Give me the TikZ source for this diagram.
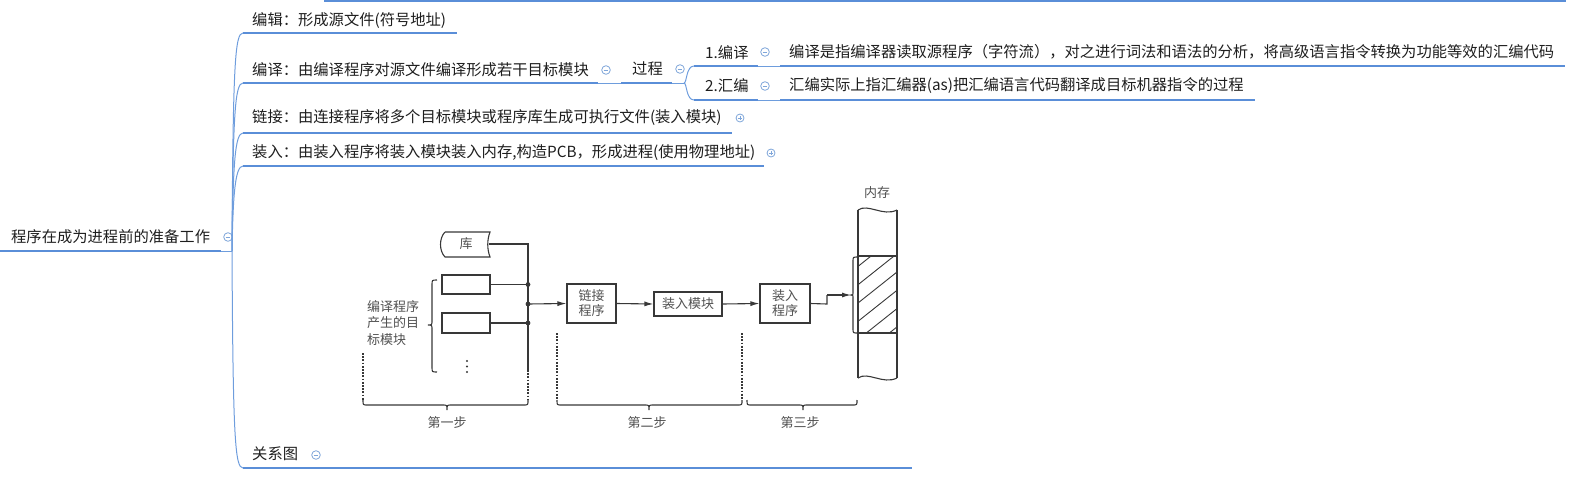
\documentclass[tikz,border=0pt]{standalone}
\usepackage{fontspec}
\newfontfamily\cjk{Noto Sans CJK SC}
\usetikzlibrary{arrows.meta}
\definecolor{mmblue}{HTML}{5A8ED8}
\definecolor{mmthin}{HTML}{6E9DDD}
\definecolor{iconc}{HTML}{7FA6DA}
\definecolor{figline}{HTML}{383838}
\definecolor{figtext}{HTML}{505050}
\definecolor{mmtextc}{HTML}{1E1E1E}
\begin{document}
\begin{tikzpicture}[x=1pt,y=-1pt,
  mmtext/.style={anchor=west,inner sep=0pt,text=mmtextc,font=\cjk\fontsize{15.3}{18}\selectfont},
  uline/.style={draw=mmblue,line width=2.6pt},
  thinb/.style={draw=mmthin,line width=1pt},
  figl/.style={draw=figline,line width=1.1pt},
  figdot/.style={draw=figline,line width=1.1pt,dash pattern=on 1.8pt off 1.4pt},
  figbox/.style={draw=figline,line width=1.1pt,inner sep=0pt,text=figtext,font=\cjk\fontsize{13}{15}\selectfont,align=center},
  figtxt/.style={inner sep=0pt,text=figtext,font=\cjk\fontsize{13}{16.5}\selectfont},
  figarrow/.style={figl,-{Latex[length=9pt,width=5pt]}},
  mmminus/.pic={\draw[iconc,line width=0.8pt,fill=white] (0,0) circle (4.3pt); \draw[iconc,line width=0.8pt] (-2.3,0)--(2.3,0);},
  mmplus/.pic={\draw[iconc,line width=0.8pt,fill=white] (0,0) circle (4pt); \draw[iconc,line width=0.8pt] (-2.1,0)--(2.1,0) (0,-2.1)--(0,2.1);}
]
\useasboundingbox (0,0) rectangle (1576,482);

% ---------- mind map ----------
\draw[uline] (324,1) -- (1566,1);

\node[mmtext] (root) at (11,237) {程序在成为进程前的准备工作};
\coordinate (rootL) at (0,251);
\coordinate (rootR) at (221,251);
\coordinate (hub) at (232,251);
\draw[uline] (rootL) -- (rootR);
\draw[thinb] (rootR) -- (hub);
\pic at (228,237) {mmminus};

% branch start points
\coordinate (b1) at (243,33);
\coordinate (b2) at (243,83);
\coordinate (b3) at (243,133);
\coordinate (b4) at (243,166);
\coordinate (b5) at (243,468);
\draw[thinb] (hub) .. controls (233,63) and (235,33) .. (b1);
\draw[thinb] (hub) .. controls (233,113) and (235,83) .. (b2);
\draw[thinb] (hub) .. controls (233,163) and (235,133) .. (b3);
\draw[thinb] (hub) .. controls (233,196) and (235,166) .. (b4);
\draw[thinb] (hub) .. controls (233,438) and (235,468) .. (b5);

% 编辑
\node[mmtext] (t1) at (252,21) {编辑：形成源文件(符号地址)};
\coordinate (u1) at (457,33);
\draw[uline] (b1) -- (u1);

% 编译
\node[mmtext] (t2) at (252,70) {编译：由编译程序对源文件编译形成若干目标模块};
\coordinate (u2a) at (598,83);
\coordinate (u2b) at (621,83);
\coordinate (u2c) at (672,83);
\coordinate (u2d) at (684,83);
\draw[uline] (b2) -- (u2a);
\draw[thinb] (u2a) -- (u2b);
\draw[uline] (u2b) -- (u2c);
\draw[thinb] (u2c) -- (u2d);
\pic at (606,70) {mmminus};
\node[mmtext] (gc) at (632,69) {过程};
\pic at (680,69) {mmminus};

\coordinate (p1) at (694,66);
\coordinate (p2) at (694,100);
\draw[thinb] (u2d) .. controls (687,83) and (686,66) .. (p1);
\draw[thinb] (u2d) .. controls (687,83) and (686,100) .. (p2);

\node[mmtext] (s1) at (705,53) {1.编译};
\pic at (765,52) {mmminus};
\coordinate (p1a) at (758,66);
\coordinate (p1b) at (780,66);
\coordinate (p1c) at (1565,66);
\draw[uline] (p1) -- (p1a);
\draw[thinb] (p1a) -- (p1b);
\draw[uline] (p1b) -- (p1c);
\node[mmtext] (d1) at (789,52) {编译是指编译器读取源程序（字符流），对之进行词法和语法的分析，将高级语言指令转换为功能等效的汇编代码};

\node[mmtext] (s2) at (705,86) {2.汇编};
\pic at (765,86) {mmminus};
\coordinate (p2a) at (758,100);
\coordinate (p2b) at (780,100);
\coordinate (p2c) at (1255,100);
\draw[uline] (p2) -- (p2a);
\draw[thinb] (p2a) -- (p2b);
\draw[uline] (p2b) -- (p2c);
\node[mmtext] (d2) at (789,86) {汇编实际上指汇编器(as)把汇编语言代码翻译成目标机器指令的过程};

% 链接
\node[mmtext] (t3) at (252,118) {链接：由连接程序将多个目标模块或程序库生成可执行文件(装入模块)};
\coordinate (u3) at (732,133);
\draw[uline] (b3) -- (u3);
\pic at (740,118) {mmplus};

% 装入
\node[mmtext] (t4) at (252,153) {装入：由装入程序将装入模块装入内存,构造PCB，形成进程(使用物理地址)};
\coordinate (u4) at (764,166);
\draw[uline] (b4) -- (u4);
\pic at (771,153) {mmplus};

% 关系图
\node[mmtext] (t5) at (252,454) {关系图};
\pic at (316,455) {mmminus};
\coordinate (u5) at (912,468);
\draw[uline] (b5) -- (u5);

% ---------- embedded figure ----------
% library
\draw[figl] (445,232) -- (490,232) .. controls (487,240) and (487,249) .. (490,257) -- (445,257) .. controls (439,251) and (439,238) .. (445,232);
\node[figtxt] (lib) at (466,244) {库};
\coordinate (libR) at (489,244);

% object module boxes
\node[figbox,minimum width=48pt,minimum height=19pt] (ob1) at (466,284.5) {};
\node[figbox,minimum width=48pt,minimum height=20pt] (ob2) at (466,323) {};
\fill[figline] (467,361) circle (1.1pt) (467,366.5) circle (1.1pt) (467,372) circle (1.1pt);

% bus
\coordinate (bt) at (528,244);
\coordinate (j1) at (528,284.5);
\coordinate (j2) at (528,304);
\coordinate (j3) at (528,323);
\coordinate (bb) at (528,370);
\coordinate (bd) at (528,400);
\draw[figl] (libR) -- (bt) -- (bb);
\draw[figdot] (bb) -- (bd);
\draw[figl] (ob1.east) -- (j1);
\draw[figl] (ob2.east) -- (j3);
\fill[figline] (j1) circle (2.4pt) (j2) circle (2.4pt) (j3) circle (2.4pt);

% left brace and text
\draw[figl] (437,280) .. controls (432,280) .. (432,285) -- (432,320) .. controls (432,325) .. (428,325) .. controls (432,325) .. (432,330) -- (432,367) .. controls (432,372) .. (437,372);
\node[figtxt,anchor=west,align=left] (objtxt) at (367,323) {编译程序\\产生的目\\标模块};

% processing boxes
\node[figbox,minimum width=49pt,minimum height=39pt] (lk) at (591.5,303.5) {链接\\程序};
\node[figbox,minimum width=68pt,minimum height=24pt] (lm) at (688,304) {装入模块};
\node[figbox,minimum width=50pt,minimum height=39pt] (ld) at (785,303.5) {装入\\程序};
\draw[figarrow] (j2) -- (lk.west);
\draw[figarrow] (lk.east) -- (lm.west);
\draw[figarrow] (lm.east) -- (ld.west);

% memory
\node[figtxt] (mem) at (877,193) {内存};
\coordinate (st1) at (827,304);
\coordinate (st2) at (827,295);
\coordinate (memin) at (851,295);
\draw[figl] (ld.east) -- (st1) -- (st2);
\draw[figarrow] (st2) -- (memin);

\begin{scope}
  \clip (858,256) rectangle (897,333);
  \foreach \k in {-2,...,6} {
    \draw[figline,line width=0.9pt] (856,{268+18.3*\k}) -- (900,{268+18.3*\k-35});
  }
\end{scope}
\draw[figl] (858,210) -- (858,378);
\draw[figline,line width=1.5pt] (897,210) -- (897,378);
\draw[figl] (858,210) .. controls (868,203) and (883,217) .. (897,210);
\draw[figl] (858,378) .. controls (868,371) and (883,385) .. (897,378);
\draw[figl] (858,256) -- (897,256);
\draw[figl] (858,333) -- (897,333);
\draw[figl] (858,257) .. controls (853,257) .. (853,261) -- (853,291) .. controls (853,295) .. (851,295) .. controls (853,295) .. (853,299) -- (853,329) .. controls (853,333) .. (858,333);

% dotted guides
\draw[figdot] (363,353) -- (363,400);
\draw[figdot] (557,333) -- (557,400);
\draw[figdot] (742,333) -- (742,400);

% bottom braces
\draw[figl] (363,400) .. controls (363,405) .. (367,405) -- (443,405) .. controls (447,405) .. (447,410) .. controls (447,405) .. (451,405) -- (524,405) .. controls (528,405) .. (528,400);
\draw[figl] (557,400) .. controls (557,405) .. (561,405) -- (645,405) .. controls (649,405) .. (649,410) .. controls (649,405) .. (653,405) -- (738,405) .. controls (742,405) .. (742,400);
\draw[figl] (747,400) .. controls (747,405) .. (751,405) -- (799,405) .. controls (803,405) .. (803,410) .. controls (803,405) .. (807,405) -- (853,405) .. controls (857,405) .. (857,400);

\node[figtxt] (st1t) at (447,423) {第一步};
\node[figtxt] (st2t) at (647,423) {第二步};
\node[figtxt] (st3t) at (800,423) {第三步};
\end{tikzpicture}
\end{document}
